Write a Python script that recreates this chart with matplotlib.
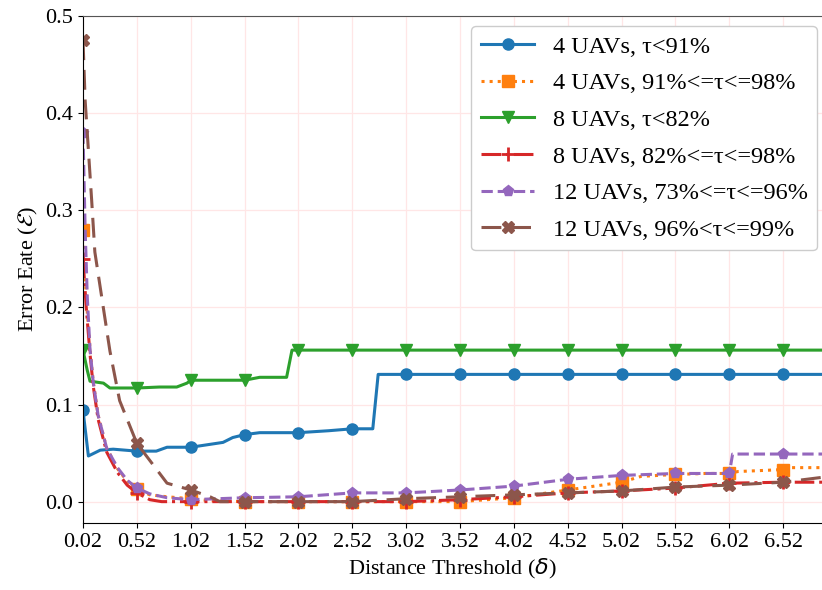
import numpy as np
import matplotlib
matplotlib.use("Agg")
import matplotlib.pyplot as plt

plt.rcParams['font.family'] = ['Liberation Serif', 'DejaVu Sans']
plt.rcParams['mathtext.fontset'] = 'dejavusans'

tick_vals = [0.02, 0.52, 1.02, 1.52, 2.02, 2.52, 3.02, 3.52, 4.02, 4.52, 5.02, 5.52, 6.02, 6.52]
tick_labels = ["0.02", "0.52", "1.02", "1.52", "2.02", "2.52", "3.02", "3.52", "4.02", "4.52", "5.02", "5.52", "6.02", "6.52"]
ytick_vals = [0.0, 0.1, 0.2, 0.3, 0.4, 0.5]

labels = ["4 UAVs, τ<91%", "4 UAVs, 91%<=τ<=98%", "8 UAVs, τ<82%",
          "8 UAVs, 82%<=τ<=98%", "12 UAVs, 73%<=τ<=96%", "12 UAVs, 96%<τ<=99%"]

blue_x = [0.02, 0.07, 0.18, 0.30, 0.52, 0.70, 0.80, 1.02, 1.20, 1.32, 1.41, 1.52, 1.66, 2.02, 2.30, 2.52,
          2.71, 2.76, 3.02, 3.52, 4.02, 4.52, 5.02, 5.52, 6.02, 6.52, 6.88]
blue_y = [0.094, 0.047, 0.053, 0.054, 0.052, 0.052, 0.056, 0.056, 0.059, 0.061, 0.066, 0.069, 0.071, 0.071,
          0.073, 0.075, 0.075, 0.131, 0.131, 0.131, 0.131, 0.131, 0.131, 0.131, 0.131, 0.131, 0.131]

orange_x = [0.02, 0.05, 0.085, 0.115, 0.16, 0.24, 0.34, 0.43, 0.52, 0.64, 0.80, 1.02, 1.20, 1.52, 2.02,
            2.52, 3.02, 3.52, 4.02, 4.52, 5.02, 5.20, 5.52, 5.80, 6.02, 6.10, 6.52, 6.60, 6.88]
orange_y = [0.28, 0.21, 0.157, 0.123, 0.089, 0.055, 0.034, 0.021, 0.013, 0.007, 0.005, 0.003, 0.001, 0.0,
            0.0, 0.0, 0.0, 0.0, 0.004, 0.012, 0.020, 0.026, 0.028, 0.029, 0.029, 0.031, 0.033, 0.035, 0.035]

green_x = [0.02, 0.06, 0.085, 0.21, 0.27, 0.52, 0.73, 0.89, 0.985, 1.02, 1.52, 1.66, 1.91, 1.96, 2.02,
           2.52, 3.02, 3.52, 4.02, 4.52, 5.02, 5.52, 6.02, 6.52, 6.88]
green_y = [0.156, 0.135, 0.124, 0.122, 0.117, 0.117, 0.118, 0.118, 0.122, 0.125, 0.125, 0.128, 0.128,
           0.156, 0.156, 0.156, 0.156, 0.156, 0.156, 0.156, 0.156, 0.156, 0.156, 0.156, 0.156]

red_x = [0.02, 0.05, 0.085, 0.115, 0.16, 0.24, 0.34, 0.43, 0.52, 0.64, 0.75, 1.02, 1.52, 2.02, 2.52,
         3.02, 3.52, 4.02, 4.52, 5.02, 5.52, 6.02, 6.52, 6.88]
red_y = [0.25, 0.20, 0.152, 0.119, 0.085, 0.051, 0.030, 0.017, 0.009, 0.002, 0.0, 0.0, 0.0, 0.0, 0.0,
         0.0, 0.002, 0.005, 0.009, 0.011, 0.014, 0.019, 0.020, 0.020]

purple_x = [0.02, 0.04, 0.06, 0.085, 0.115, 0.16, 0.24, 0.34, 0.43, 0.52, 0.64, 0.80, 1.02, 1.52, 2.02,
            2.52, 3.02, 3.52, 4.02, 4.52, 5.02, 5.52, 6.02, 6.05, 6.52, 6.88]
purple_y = [0.38, 0.28, 0.21, 0.157, 0.123, 0.089, 0.055, 0.035, 0.022, 0.014, 0.008, 0.004, 0.002,
            0.004, 0.005, 0.009, 0.009, 0.012, 0.016, 0.023, 0.027, 0.029, 0.029, 0.049, 0.049, 0.049]

brown_x = [0.02, 0.04, 0.07, 0.10, 0.13, 0.27, 0.36, 0.52, 0.80, 1.02, 1.20, 1.29, 1.52, 2.02, 2.52,
           3.02, 3.52, 4.02, 4.52, 5.02, 5.52, 6.02, 6.52, 6.88]
brown_y = [0.475, 0.413, 0.362, 0.311, 0.257, 0.155, 0.104, 0.060, 0.019, 0.012, 0.005, 0.0, 0.0, 0.0,
           0.0, 0.003, 0.005, 0.007, 0.009, 0.011, 0.015, 0.017, 0.020, 0.025]

series = [
    (blue_x, blue_y, '#1f77b4', '-', 'o'),
    (orange_x, orange_y, '#ff7f0e', ':', 's'),
    (green_x, green_y, '#2ca02c', '-', 'v'),
    (red_x, red_y, '#d62728', '-.', '+'),
    (purple_x, purple_y, '#9467bd', '--', 'p'),
    (brown_x, brown_y, '#8c564b', (0, (6.5, 3.2)), 'X'),
]

fig = plt.figure(figsize=(8.22, 5.90), dpi=100)
ax = fig.add_axes([83 / 822, (590 - 523) / 590, 1 - 83 / 822, (523 - 16) / 590])

for (x, y, c, ls, m), lab in zip(series, labels):
    idx = [i for i, xv in enumerate(x) if np.any(np.isclose(xv, tick_vals))]
    ms = 10 if m == '+' else 8
    ax.plot(x, y, color=c, linestyle=ls, lw=2.2, marker=m, markevery=idx,
            markersize=ms, markeredgewidth=2 if m == '+' else 1, label=lab)

ax.set_xlim(0.02, 6.88)
ax.set_ylim(-0.022, 0.5)
ax.set_xticks(tick_vals)
ax.set_xticklabels(tick_labels)
ax.set_yticks(ytick_vals)
ax.tick_params(labelsize=16)
ax.grid(True, color='#ffe6e6', lw=0.9)
ax.set_axisbelow(True)
ax.spines['right'].set_visible(False)
ax.spines['top'].set_color('#555555')
ax.set_xlabel(r"Distance Threshold ($\delta$)", fontsize=16)
ax.set_ylabel(r"Error Eate ($\mathcal{E}$)", fontsize=16)

ax.legend(loc='upper right', bbox_to_anchor=(0.997, 0.985), borderaxespad=0.1, fontsize=17.5,
          framealpha=1, handlelength=2.2, handletextpad=0.75, labelspacing=0.6, borderpad=0.4)

fig.savefig("out.png", dpi=100)
